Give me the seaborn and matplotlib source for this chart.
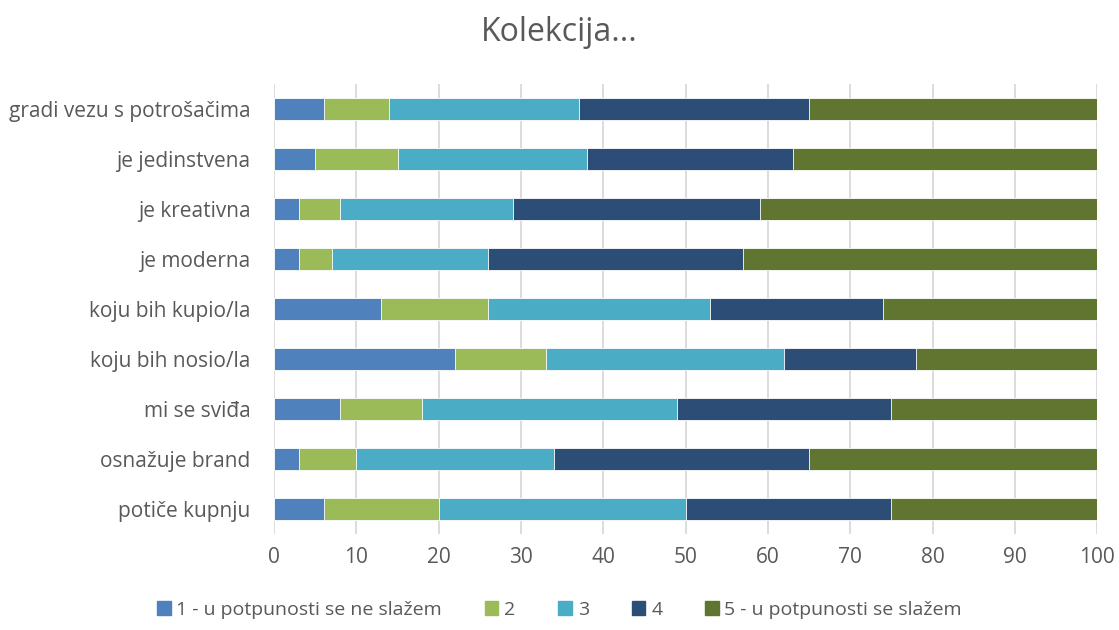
import matplotlib.pyplot as plt
import matplotlib.patches as mpatches
import numpy as np
import pandas as pd
import seaborn as sns

categories = ["gradi vezu s potrošačima", "je jedinstvena", "je kreativna", "je moderna",
              "koju bih kupio/la", "koju bih nosio/la", "mi se sviđa", "osnažuje brand",
              "potiče kupnju"]
s1 = [6, 5, 3, 3, 13, 22, 8, 3, 6]
s2 = [8, 10, 5, 4, 13, 11, 10, 7, 14]
s3 = [23, 23, 21, 19, 27, 29, 31, 24, 30]
s4 = [28, 25, 30, 31, 21, 16, 26, 31, 25]
s5 = [35, 37, 41, 43, 26, 22, 25, 35, 25]
series_names = ["1 - u potpunosti se ne slažem", "2", "3", "4", "5 - u potpunosti se slažem"]
colors = ["#4F81BD", "#9BBB59", "#4BACC6", "#2C4D75", "#5F7530"]

sns.set_style("white")
plt.rcParams['font.family'] = ['Open Sans', 'DejaVu Sans']
text_col = "#595959"

df = pd.DataFrame({"cat": categories, "s1": s1, "s2": s2, "s3": s3, "s4": s4, "s5": s5})
cols = ["s1", "s2", "s3", "s4", "s5"]
cum = df[cols].cumsum(axis=1)

fig = plt.figure(figsize=(11.19, 6.30), dpi=100)
ax = fig.add_axes([0.245, 0.152, 0.7355, 0.715])

# stacked bars: draw the widest cumulative first
for c, col in reversed(list(zip(cols, colors))):
    sns.barplot(x=cum[c], y=df["cat"], color=col, width=0.44, orient="h",
                edgecolor="white", linewidth=0.6, ax=ax, saturation=1)

ax.set_xlim(0, 100)
ax.set_xticks(np.arange(0, 101, 10))
ax.xaxis.grid(True, color="#D9D9D9", linewidth=1.3)
ax.set_axisbelow(True)
for s in ax.spines.values():
    s.set_visible(False)
ax.set_xlabel("")
ax.set_ylabel("")
ax.tick_params(axis="y", length=0, labelsize=15, colors=text_col, pad=17)
ax.tick_params(axis="x", length=0, labelsize=15, colors=text_col, pad=9)

fig.suptitle("Kolekcija...", fontsize=23, color=text_col, y=0.975)

handles = [mpatches.Patch(color=c, label=n) for c, n in zip(colors, series_names)]
fig.legend(handles=handles, loc="lower center", ncol=5, frameon=False,
           bbox_to_anchor=(0.5, -0.01), fontsize=14, labelcolor=text_col,
           handlelength=0.7, handleheight=0.7, handletextpad=0.3, columnspacing=2.2)

fig.savefig("out.png", dpi=100)
